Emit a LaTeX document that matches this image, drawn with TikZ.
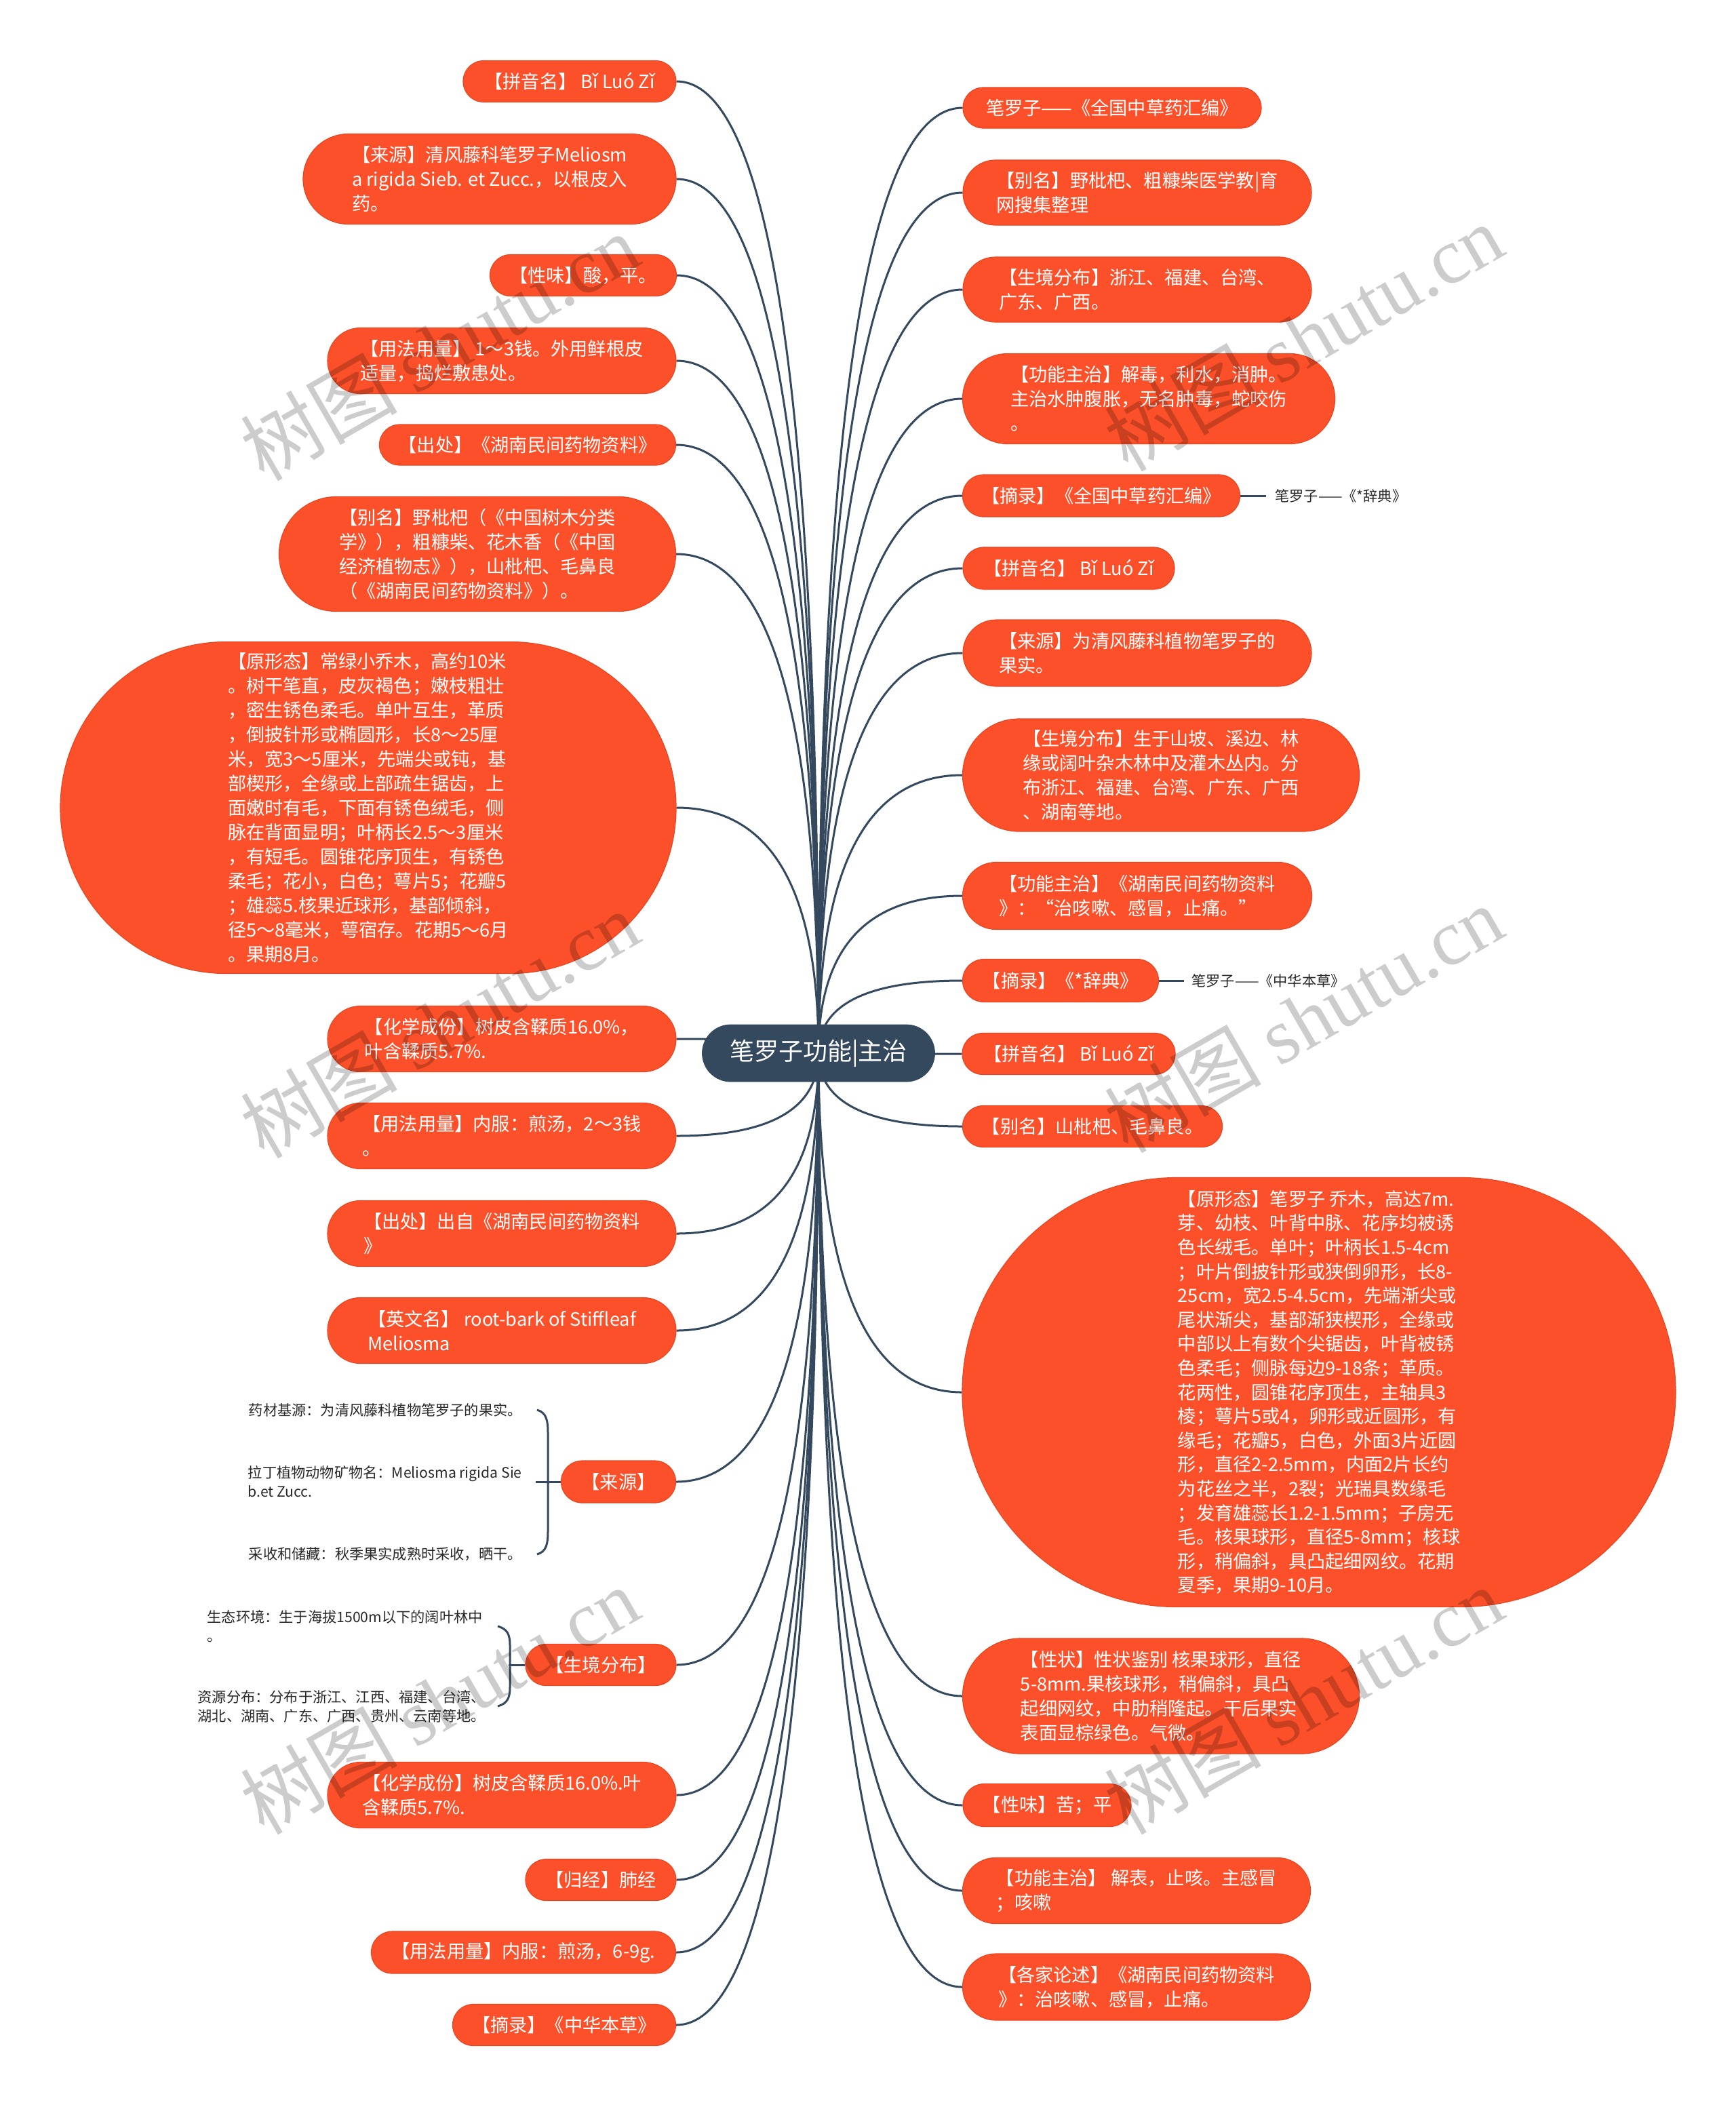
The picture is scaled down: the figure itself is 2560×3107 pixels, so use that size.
\documentclass[tikz,border=0pt]{standalone}
\usepackage{fontspec}
\setmainfont{Noto Sans CJK SC}
\newfontfamily\wmfont{Liberation Serif}
\usetikzlibrary{shapes.misc,calc,backgrounds}
\definecolor{nodeor}{RGB}{252,80,42}
\definecolor{nodeedge}{RGB}{232,70,34}
\definecolor{slate}{RGB}{52,73,94}
\definecolor{leaftext}{RGB}{40,40,40}
\newcommand\mlink[1]{\draw[link] (root.center) .. controls ($(root.center)!0.667!(root.center|-#1)$) and ($(#1)!0.667!(root.center|-#1)$) .. (#1);}
\begin{document}
\begin{tikzpicture}[x=0.5pt,y=-0.5pt,
  topic/.style={shape=rounded rectangle, fill=nodeor, draw=nodeedge, line width=0.6pt, text=white, font=\fontsize{13.6}{18}\selectfont, align=left, inner sep=0pt},
  bigtopic/.style={topic},
  root/.style={shape=rounded rectangle, fill=slate, draw=slate, text=white, font=\fontsize{18}{20}\selectfont, inner sep=0pt},
  link/.style={draw=slate, line width=1.5pt},
  leaf/.style={text=leaftext, font=\fontsize{10.6}{14}\selectfont, align=left, inner sep=0pt},
  wm/.style={text=black, text opacity=0.2, font=\fontsize{58}{60}\selectfont, inner sep=0pt, rotate=30}]
\useasboundingbox (0,0) rectangle (2560,3107);
\begin{pgfonlayer}{background}
\fill[white] (0,0) rectangle (2560,3107);
\end{pgfonlayer}

% root
\node[root, minimum width=171.5pt, minimum height=42pt] (root) at (1207,1553) {笔罗子功能|主治};

% left side
\node[topic, minimum width=157pt, minimum height=30.5pt] (L1) at (840,120) {【拼音名】 Bǐ Luó Zǐ};
\node[topic, minimum width=275pt, minimum height=66.5pt] (L2) at (722,264) {【来源】清风藤科笔罗子Meliosm\\a rigida Sieb. et Zucc.，以根皮入\\药。};
\node[topic, minimum width=137.5pt, minimum height=30.5pt] (L3) at (860,406) {【性味】酸，平。};
\node[topic, minimum width=257pt, minimum height=48.5pt] (L4) at (740,532) {【用法用量】 1～3钱。外用鲜根皮\\适量，捣烂敷患处。};
\node[topic, minimum width=218.5pt, minimum height=30pt] (L5) at (778,656) {【出处】《湖南民间药物资料》};
\node[topic, minimum width=292.5pt, minimum height=84.5pt] (L6) at (704,817) {【别名】野枇杷（《中国树木分类\\学》），粗糠柴、花木香（《中国\\经济植物志》），山枇杷、毛鼻良\\（《湖南民间药物资料》）。};
\node[bigtopic, minimum width=454pt, minimum height=244.5pt] (L7) at (543,1191) {【原形态】常绿小乔木，高约10米\\。树干笔直，皮灰褐色；嫩枝粗壮\\，密生锈色柔毛。单叶互生，革质\\，倒披针形或椭圆形，长8～25厘\\米，宽3～5厘米，先端尖或钝，基\\部楔形，全缘或上部疏生锯齿，上\\面嫩时有毛，下面有锈色绒毛，侧\\脉在背面显明；叶柄长2.5～3厘米\\，有短毛。圆锥花序顶生，有锈色\\柔毛；花小，白色；萼片5；花瓣5\\；雄蕊5.核果近球形，基部倾斜，\\径5～8毫米，萼宿存。花期5～6月\\。果期8月。};
\node[topic, minimum width=257pt, minimum height=48.5pt] (L8) at (740,1532) {【化学成份】树皮含鞣质16.0\%，\\叶含鞣质5.7\%.};
\node[topic, minimum width=257pt, minimum height=48.5pt] (L9) at (740,1675) {【用法用量】内服：煎汤，2～3钱\\。};
\node[topic, minimum width=257pt, minimum height=48.5pt] (L10) at (740,1819) {【出处】出自《湖南民间药物资料\\》};
\node[topic, minimum width=257pt, minimum height=48.5pt] (L11) at (740,1962) {【英文名】 root-bark of Stiffleaf\\Meliosma};
\node[topic, minimum width=84.5pt, minimum height=31pt] (L12) at (912,2185) {【来源】};
\node[topic, minimum width=111pt, minimum height=30.5pt] (L13) at (886,2455) {【生境分布】};
\node[topic, minimum width=257pt, minimum height=48.5pt] (L14) at (740,2647) {【化学成份】树皮含鞣质16.0\%.叶\\含鞣质5.7\%.};
\node[topic, minimum width=111pt, minimum height=30.5pt] (L15) at (886,2772) {【归经】肺经};
\node[topic, minimum width=224.5pt, minimum height=31pt] (L16) at (772,2879) {【用法用量】内服：煎汤，6-9g.};
\node[topic, minimum width=164.5pt, minimum height=30.5pt] (L17) at (832,2986) {【摘录】《中华本草》};

% right side
\node[topic, minimum width=220pt, minimum height=30pt] (R1) at (1640,159) {笔罗子——《全国中草药汇编》};
\node[topic, minimum width=257pt, minimum height=48pt] (R2) at (1677,284) {【别名】野枇杷、粗糠柴医学教|育\\网搜集整理};
\node[topic, minimum width=257pt, minimum height=48pt] (R3) at (1677,427) {【生境分布】浙江、福建、台湾、\\广东、广西。};
\node[topic, minimum width=274.5pt, minimum height=66.5pt] (R4) at (1694,588) {【功能主治】解毒，利水，消肿。\\主治水肿腹胀，无名肿毒，蛇咬伤\\。};
\node[topic, minimum width=204.5pt, minimum height=31pt] (R5) at (1624,731) {【摘录】《全国中草药汇编》};
\node[topic, minimum width=156pt, minimum height=31pt] (R6) at (1576,838) {【拼音名】 Bǐ Luó Zǐ};
\node[topic, minimum width=257pt, minimum height=49pt] (R7) at (1677,963) {【来源】为清风藤科植物笔罗子的\\果实。};
\node[topic, minimum width=292.5pt, minimum height=83pt] (R8) at (1712,1143) {【生境分布】生于山坡、溪边、林\\缘或阔叶杂木林中及灌木丛内。分\\布浙江、福建、台湾、广东、广西\\、湖南等地。};
\node[topic, minimum width=257.5pt, minimum height=49.5pt] (R9) at (1677,1321) {【功能主治】《湖南民间药物资料\\》：“治咳嗽、感冒，止痛。”};
\node[topic, minimum width=144.5pt, minimum height=31.5pt] (R10) at (1564,1446) {【摘录】《*辞典》};
\node[topic, minimum width=157pt, minimum height=30.5pt] (R11) at (1576,1554) {【拼音名】 Bǐ Luó Zǐ};
\node[topic, minimum width=191.5pt, minimum height=30.5pt] (R12) at (1611,1661) {【别名】山枇杷、毛鼻良。};
\node[bigtopic, font=\fontsize{13.6}{17.8}\selectfont, minimum width=526pt, minimum height=316.5pt] (R13) at (1945,2053) {【原形态】笔罗子 乔木，高达7m.\\芽、幼枝、叶背中脉、花序均被诱\\色长绒毛。单叶；叶柄长1.5-4cm\\；叶片倒披针形或狭倒卵形，长8-\\25cm，宽2.5-4.5cm，先端渐尖或\\尾状渐尖，基部渐狭楔形，全缘或\\中部以上有数个尖锯齿，叶背被锈\\色柔毛；侧脉每边9-18条；革质。\\花两性，圆锥花序顶生，主轴具3\\棱；萼片5或4，卵形或近圆形，有\\缘毛；花瓣5，白色，外面3片近圆\\形，直径2-2.5mm，内面2片长约\\为花丝之半，2裂；光瑞具数缘毛\\；发育雄蕊长1.2-1.5mm；子房无\\毛。核果球形，直径5-8mm；核球\\形，稍偏斜，具凸起细网纹。花期\\夏季，果期9-10月。};
\node[topic, minimum width=292.5pt, minimum height=85pt] (R14) at (1712,2501) {【性状】性状鉴别 核果球形，直径\\5-8mm.果核球形，稍偏斜，具凸\\起细网纹，中肋稍隆起。干后果实\\表面显棕绿色。气微。};
\node[topic, minimum width=124pt, minimum height=31.5pt] (R15) at (1544,2662) {【性味】苦；平};
\node[topic, minimum width=256.5pt, minimum height=48.5pt] (R16) at (1676,2788) {【功能主治】 解表，止咳。主感冒\\；咳嗽};
\node[topic, minimum width=256.5pt, minimum height=49pt] (R17) at (1676,2930) {【各家论述】《湖南民间药物资料\\》：治咳嗽、感冒，止痛。};

% leaf texts
\node[leaf, anchor=east] (S1) at (770,2079) {药材基源：为清风藤科植物笔罗子的果实。};
\node[leaf, anchor=east] (S2) at (770,2185) {拉丁植物动物矿物名：Meliosma rigida Sie\\b.et Zucc.};
\node[leaf, anchor=east] (S3) at (770,2292) {采收和储藏：秋季果实成熟时采收，晒干。};
\node[leaf, anchor=east] (G1) at (712,2398) {生态环境：生于海拔1500m以下的阔叶林中\\。};
\node[leaf, anchor=east] (G2) at (716,2516) {资源分布：分布于浙江、江西、福建、台湾、\\湖北、湖南、广东、广西、贵州、云南等地。};
\node[leaf, anchor=west] (C5) at (1880,731) {笔罗子——《*辞典》};
\node[leaf, anchor=west] (C10) at (1757,1446) {笔罗子——《中华本草》};

% bracket coordinates
\coordinate (B1) at (790,2185);
\coordinate (B2) at (750,2455);

% connectors
\begin{pgfonlayer}{background}
\foreach \n in {L1,L2,L3,L4,L5,L6,L7,L8,L9,L10,L11,L12,L13,L14,L15,L16,L17}{\mlink{\n.east}}
\foreach \n in {R1,R2,R3,R4,R5,R6,R7,R8,R9,R10,R11,R12,R13,R14,R15,R16,R17}{\mlink{\n.west}}
\draw[link] (L12.west) -- (B1);
\draw[link] ([xshift=11pt]S1.east) .. controls ([xshift=18pt,yshift=-2pt]S1.east) and ([xshift=19pt,yshift=-8pt]S1.east) .. ([xshift=19pt,yshift=-17pt]S1.east) -- ([xshift=19pt,yshift=17pt]S3.east) .. controls ([xshift=19pt,yshift=8pt]S3.east) and ([xshift=18pt,yshift=2pt]S3.east) .. ([xshift=11pt]S3.east);
\draw[link] (L13.west) -- (B2);
\draw[link] ([xshift=11pt]G1.east) .. controls ([xshift=18pt,yshift=-2pt]G1.east) and ([xshift=20pt,yshift=-6pt]G1.east) .. ([xshift=20pt,yshift=-14pt]G1.east) -- ([xshift=18pt,yshift=14pt]G2.east) .. controls ([xshift=18pt,yshift=6pt]G2.east) and ([xshift=16pt,yshift=2pt]G2.east) .. ([xshift=9pt]G2.east);
\draw[link] (R5.east) -- ([xshift=-6.5pt]C5.west);
\draw[link] (R10.east) -- ([xshift=-5.5pt]C10.west);
\end{pgfonlayer}

% watermarks
\node[wm] (W1) at (648,511) {树图 {\wmfont shutu.cn}};
\node[wm] (W2) at (1922,497) {树图 {\wmfont shutu.cn}};
\node[wm] (W3) at (648,1510) {树图 {\wmfont shutu.cn}};
\node[wm] (W4) at (1922,1502) {树图 {\wmfont shutu.cn}};
\node[wm] (W5) at (648,2507) {树图 {\wmfont shutu.cn}};
\node[wm] (W6) at (1922,2507) {树图 {\wmfont shutu.cn}};
\end{tikzpicture}
\end{document}
